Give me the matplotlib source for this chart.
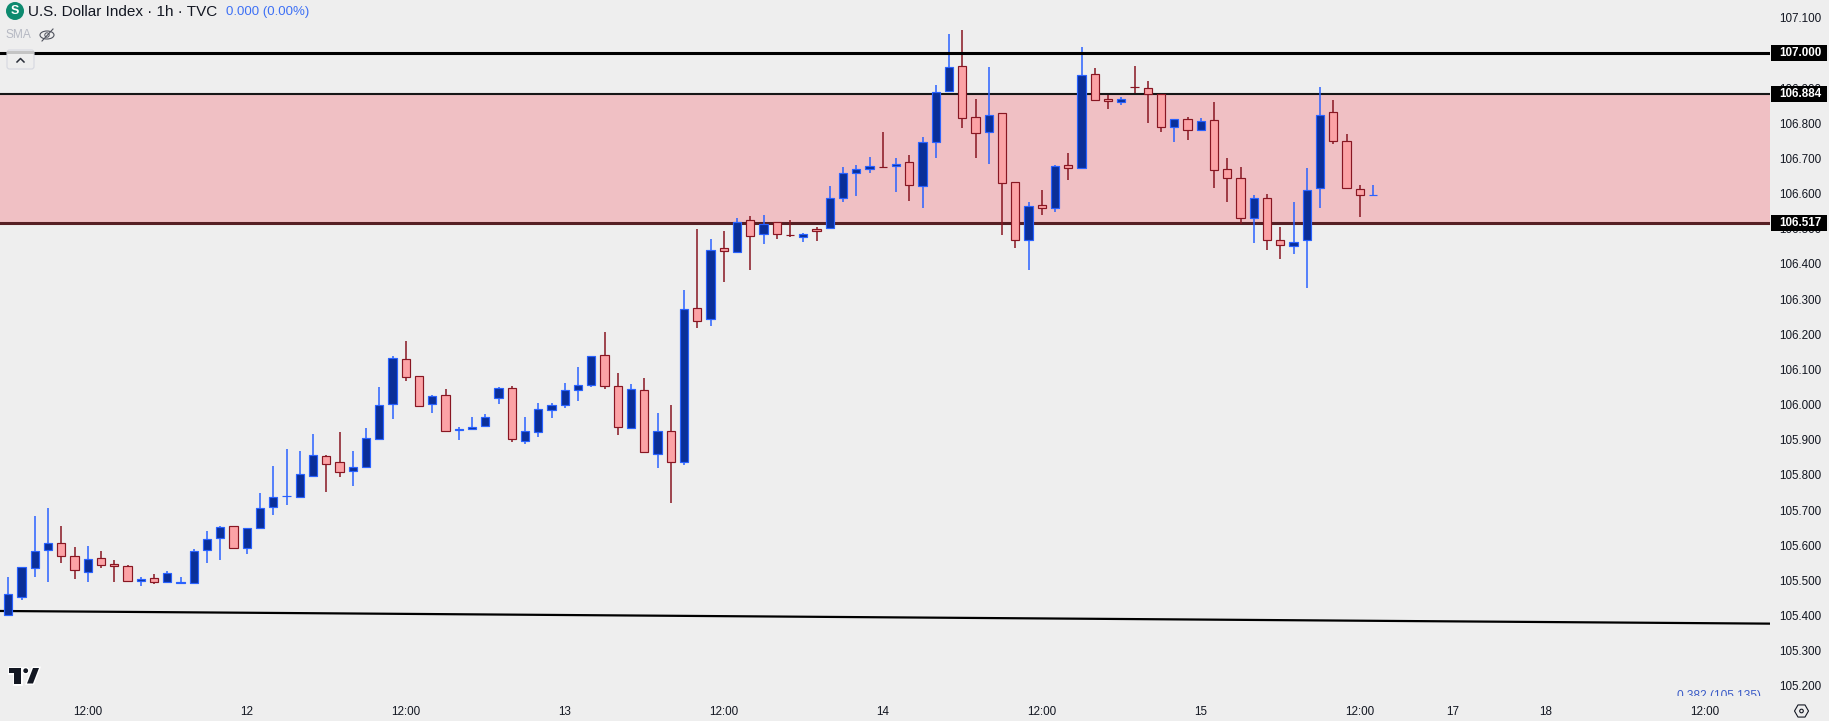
import matplotlib
matplotlib.use("Agg")
import matplotlib.pyplot as plt
from matplotlib.patches import Circle, Ellipse, FancyBboxPatch, Polygon, Rectangle, RegularPolygon
from matplotlib.transforms import blended_transform_factory
import matplotlib.patheffects as pe

plt.rcParams["font.family"] = ["Liberation Sans", "DejaVu Sans"]

opens = [
    105.402, 105.454, 105.536, 105.587, 105.605, 105.568, 105.525, 105.563, 105.548, 105.540,
    105.499, 105.506, 105.496, 105.494, 105.493, 105.587, 105.621, 105.654, 105.593, 105.650,
    105.710, 105.739, 105.738, 105.798, 105.853, 105.836, 105.812, 105.823, 105.903, 106.001,
    106.129, 106.080, 106.001, 106.026, 105.929, 105.930, 105.938, 106.018, 106.046, 105.896,
    105.921, 105.984, 105.998, 106.041, 106.055, 106.140, 106.052, 105.933, 106.041, 105.859,
    105.924, 105.836, 106.274, 106.243, 106.445, 106.433, 106.524, 106.484, 106.518, 106.483,
    106.478, 106.498, 106.501, 106.587, 106.658, 106.669, 106.677, 106.678, 106.689, 106.621,
    106.746, 106.893, 106.962, 106.817, 106.775, 106.829, 106.632, 106.467, 106.567, 106.558,
    106.681, 106.672, 106.939, 106.868, 106.860, 106.904, 106.900, 106.883, 106.789, 106.811,
    106.780, 106.809, 106.669, 106.644, 106.530, 106.587, 106.467, 106.450, 106.467, 106.615,
    106.831, 106.751, 106.612, 106.595,
]
closes = [
    105.460, 105.537, 105.583, 105.605, 105.570, 105.530, 105.560, 105.545, 105.542, 105.499,
    105.504, 105.496, 105.520, 105.495, 105.585, 105.617, 105.651, 105.593, 105.648, 105.705,
    105.736, 105.740, 105.802, 105.856, 105.832, 105.809, 105.822, 105.904, 105.999, 106.132,
    106.078, 105.995, 106.024, 105.924, 105.930, 105.935, 105.964, 106.046, 105.901, 105.924,
    105.987, 105.998, 106.041, 106.055, 106.137, 106.052, 105.935, 106.043, 105.864, 105.924,
    105.836, 106.271, 106.239, 106.439, 106.436, 106.518, 106.480, 106.513, 106.484, 106.482,
    106.484, 106.493, 106.587, 106.658, 106.669, 106.678, 106.676, 106.683, 106.624, 106.746,
    106.888, 106.959, 106.814, 106.772, 106.823, 106.629, 106.467, 106.564, 106.558, 106.678,
    106.672, 106.937, 106.866, 106.863, 106.868, 106.903, 106.883, 106.789, 106.811, 106.780,
    106.806, 106.666, 106.644, 106.530, 106.587, 106.467, 106.453, 106.462, 106.609, 106.825,
    106.751, 106.615, 106.595, 106.596,
]
highs = [
    105.510, 105.537, 105.683, 105.706, 105.655, 105.595, 105.598, 105.584, 105.558, 105.544,
    105.510, 105.518, 105.527, 105.510, 105.589, 105.640, 105.655, 105.654, 105.648, 105.749,
    105.825, 105.874, 105.868, 105.916, 105.857, 105.922, 105.868, 105.933, 106.050, 106.138,
    106.181, 106.080, 106.027, 106.045, 105.937, 105.965, 105.973, 106.050, 106.053, 105.965,
    106.005, 106.005, 106.062, 106.107, 106.137, 106.207, 106.090, 106.059, 106.076, 105.976,
    105.999, 106.326, 106.499, 106.470, 106.494, 106.531, 106.536, 106.539, 106.518, 106.525,
    106.488, 106.505, 106.622, 106.676, 106.681, 106.704, 106.775, 106.701, 106.710, 106.761,
    106.909, 107.054, 107.066, 106.869, 106.960, 106.829, 106.632, 106.576, 106.611, 106.682,
    106.716, 107.017, 106.957, 106.881, 106.875, 106.963, 106.921, 106.883, 106.811, 106.818,
    106.815, 106.861, 106.701, 106.676, 106.595, 106.599, 106.505, 106.576, 106.673, 106.903,
    106.866, 106.769, 106.624, 106.624,
]
lows = [
    105.402, 105.444, 105.510, 105.495, 105.549, 105.504, 105.495, 105.535, 105.495, 105.495,
    105.484, 105.490, 105.496, 105.494, 105.490, 105.549, 105.558, 105.593, 105.575, 105.650,
    105.686, 105.714, 105.738, 105.798, 105.751, 105.794, 105.768, 105.823, 105.899, 105.959,
    106.067, 105.995, 105.976, 105.924, 105.899, 105.930, 105.938, 106.002, 105.894, 105.888,
    105.908, 105.962, 105.990, 106.010, 106.050, 106.045, 105.913, 105.933, 105.864, 105.820,
    105.720, 105.828, 106.218, 106.224, 106.349, 106.433, 106.383, 106.457, 106.471, 106.477,
    106.462, 106.465, 106.501, 106.576, 106.593, 106.659, 106.675, 106.605, 106.579, 106.559,
    106.701, 106.888, 106.787, 106.701, 106.684, 106.483, 106.446, 106.383, 106.539, 106.548,
    106.639, 106.672, 106.866, 106.841, 106.852, 106.885, 106.801, 106.775, 106.747, 106.753,
    106.780, 106.616, 106.576, 106.514, 106.460, 106.440, 106.414, 106.429, 106.331, 106.559,
    106.741, 106.615, 106.533, 106.595,
]

price_ticks = [105.2, 105.3, 105.4, 105.5, 105.6, 105.7, 105.8, 105.9, 106.0, 106.1,
               106.2, 106.3, 106.4, 106.5, 106.6, 106.7, 106.8, 106.9, 107.0, 107.1]
time_ticks = [6, 18, 30, 42, 54, 66, 78, 90, 102, 109, 116, 128]
time_labels = ["12:00", "12", "12:00", "13", "12:00", "14", "12:00", "15", "12:00", "17", "18", "12:00"]

level_top = 107.000
zone_high = 106.884
zone_low = 106.517
zone_floor = 106.512
trend_x = [-0.63, 132.96]
trend_y = [105.413, 105.377]
fib_label = "0.382 (105.135)"
fib_price = 105.172

BG = "#eeeeee"
UP_BODY = "#0a2f99"
UP_EDGE = "#2962ff"
DOWN_BODY = "#fca3a6"
DOWN_EDGE = "#881622"
TEXT = "#131722"

fig = plt.figure(figsize=(18.29, 7.21), dpi=100, facecolor=BG)
ax = fig.add_axes([0, 25 / 721, 1770 / 1829, 696 / 721], facecolor=BG)
ax.set_xlim(-0.629, 132.96)
ax.set_ylim(105.1712, 107.1507)

# zone goes under the candles, the 107 line stays over the wicks
ax.axhspan(zone_floor, zone_high, color="#f0c0c4", lw=0, zorder=1)
ax.axhline(level_top, color="black", lw=2.2, zorder=5)
ax.axhline(zone_high, color="#161616", lw=1.5, zorder=2)
ax.axhline(zone_low, color="#561f24", lw=2.2, zorder=2)
ax.plot(trend_x, trend_y, color="black", lw=1.6, zorder=2)

for i in range(len(opens)):
    up = closes[i] >= opens[i]
    edge = UP_EDGE if up else DOWN_EDGE
    body = UP_BODY if up else DOWN_BODY
    ax.vlines(i, lows[i], highs[i], color=edge, lw=1.1, zorder=3)
    ax.bar(i, abs(closes[i] - opens[i]), bottom=min(opens[i], closes[i]), width=0.62,
           color=body, edgecolor=edge, linewidth=0.85, zorder=4)

ax.text(129.1, fib_price, fib_label, color="#3a5bc7", fontsize=8.6, ha="center", va="center",
        clip_on=True, zorder=5)

for s in ax.spines.values():
    s.set_visible(False)
ax.yaxis.tick_right()
ax.set_yticks(price_ticks)
ax.set_yticklabels([f"{p:.3f}" for p in price_ticks])
ax.set_xticks(time_ticks)
ax.set_xticklabels(time_labels)
ax.tick_params(axis="y", length=0, pad=6.8, labelsize=8.4, labelcolor=TEXT)
ax.tick_params(axis="x", length=0, pad=7, labelsize=8.4, labelcolor=TEXT)

# price tags on the right axis
tag_trans = blended_transform_factory(ax.transAxes, ax.transData)
for level in [level_top, zone_high, zone_low]:
    ax.add_patch(Rectangle((1771 / 1770, level - 0.0235), 56 / 1770, 0.047, transform=tag_trans,
                           color="black", lw=0, clip_on=False, zorder=6))
    ax.text(1779 / 1770, level, f"{level:.3f}", transform=tag_trans, color="white", fontsize=8.4,
            fontweight="bold", ha="left", va="center", clip_on=False, zorder=7)

# header, logo and buttons are drawn in pixel coordinates
top = fig.add_axes([0, 0, 1, 1], facecolor="none")
top.set_xlim(0, 1829)
top.set_ylim(721, 0)
top.axis("off")

top.add_patch(Circle((15, 11), 9, color="#0d8a6f", lw=0))
top.text(15, 11.5, "S", color="white", fontsize=9, fontweight="bold", ha="center", va="center")
top.text(28, 11.5, "U.S. Dollar Index · 1h · TVC", color=TEXT, fontsize=11, ha="left", va="center")
top.text(226, 11.5, "0.000 (0.00%)", color="#3d70f5", fontsize=9.5, ha="left", va="center")
top.text(6, 35.5, "SMA", color="#b6b9c3", fontsize=8.6, ha="left", va="center")
top.add_patch(Ellipse((47, 35), 14, 8, fill=False, ec="#50535e", lw=0.8))
top.add_patch(Circle((47, 35), 2.2, fill=False, ec="#50535e", lw=0.7))
top.plot([42, 53], [41, 29], color="#50535e", lw=0.8)

top.add_patch(FancyBboxPatch((7, 50), 27, 19, boxstyle="round,pad=0,rounding_size=2.5",
                             fc=BG, ec="#d6d8e0", lw=0.8))
top.add_patch(Rectangle((7, 51), 27, 3, color="#c4c4c4", lw=0))
top.plot([17, 20.5, 24], [62, 58.5, 62], color="#2a2e39", lw=1.1)

logo = [pe.withStroke(linewidth=2, foreground="white")]
top.add_patch(Polygon([(8.5, 668), (21, 668), (21, 683.5), (13.5, 683.5), (13.5, 673), (8.5, 673)],
                      fc=TEXT, lw=0, path_effects=logo))
top.add_patch(Circle((25.7, 670.7), 2.4, fc=TEXT, lw=0, path_effects=logo))
top.add_patch(Polygon([(33, 668), (39, 668), (33, 683.5), (27, 683.5)], fc=TEXT, lw=0, path_effects=logo))

top.add_patch(RegularPolygon((1801.5, 711), 6, radius=7, orientation=0.5236, fill=False, ec=TEXT, lw=0.8))
top.add_patch(Circle((1801.5, 711), 1.8, fill=False, ec=TEXT, lw=0.8))

fig.savefig("out.png", dpi=100, facecolor=BG)
plt.close(fig)
